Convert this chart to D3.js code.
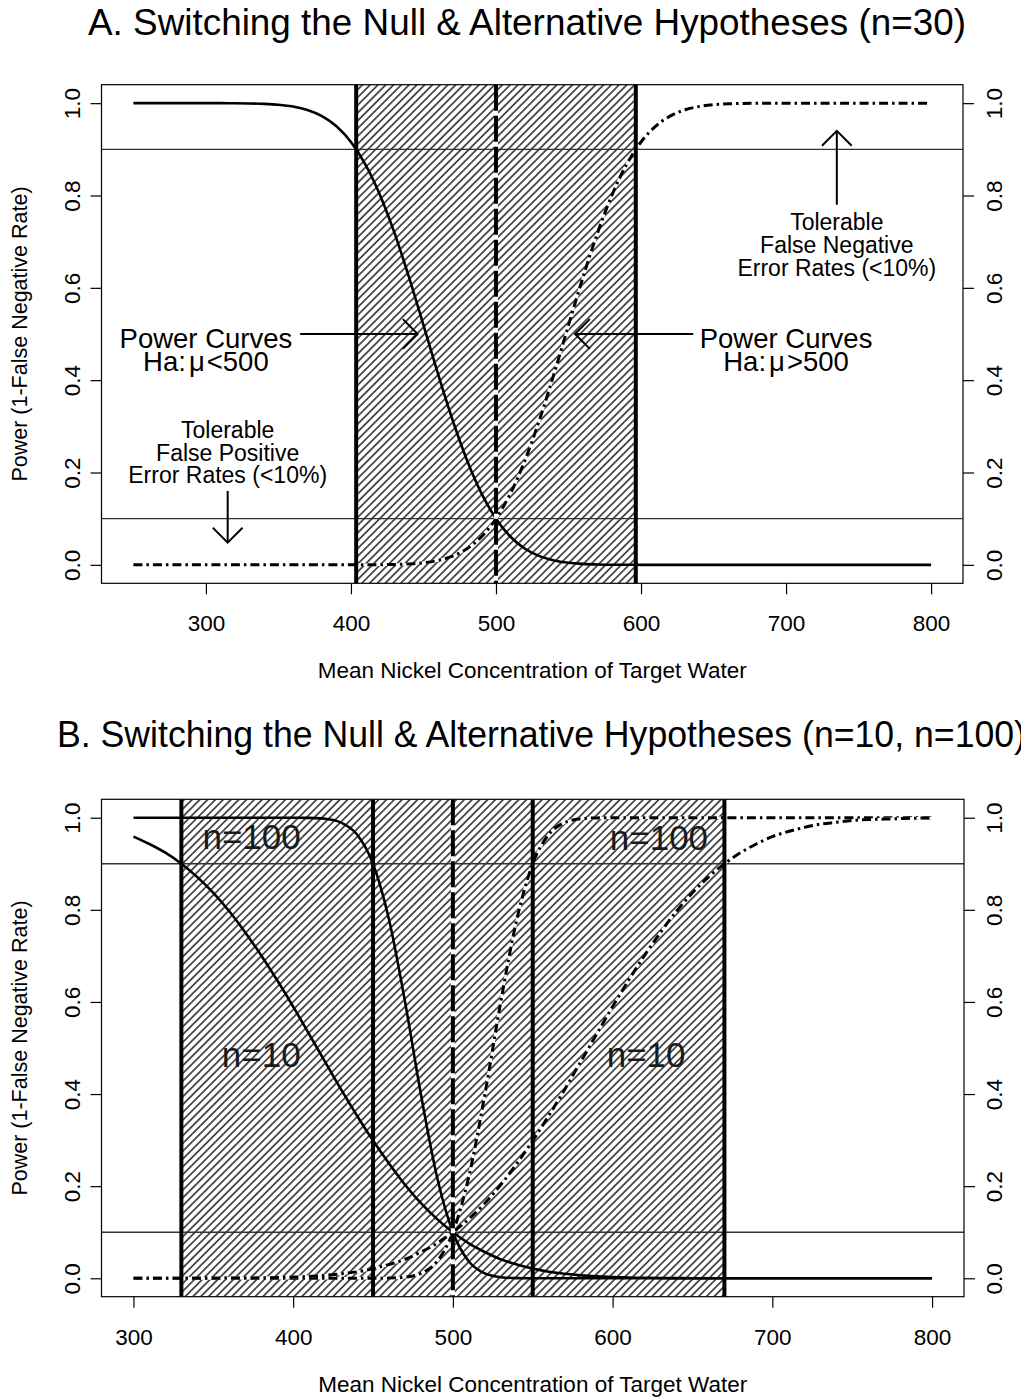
<!DOCTYPE html>
<html>
<head>
<meta charset="utf-8">
<script src="https://cdn.jsdelivr.net/npm/d3@7"></script>
<style>
  body { margin: 0; background: #fff; }
  svg text { font-family: "Liberation Sans", Arial, Helvetica, sans-serif; fill: #000; }
</style>
</head>
<body>
<svg id="fig" width="1021" height="1397"></svg>
<script>
// ---------- values ----------
// Panel A: n = 30, true mean grid and power of the two one-sided tests
const muA = [250,260,270,280,290,300,310,320,330,340,350,360,370,380,390,400,410,420,430,440,
             450,460,470,480,490,500,510,520,530,540,550,560,570,580,590,600,610,620,630,640,
             650,660,670,680,690,700,710,720,730,740,750,760,770,780,790,800];
const powerLowerA = [1,1,1,1,1,1,1,0.9998,0.9994,0.9985,0.9966,0.9927,0.9852,0.9719,0.9499,0.9159,
             0.8670,0.8012,0.7190,0.6232,0.5191,0.4137,0.3142,0.2266,0.1548,0.0999,0.0608,0.0348,
             0.0188,0.0095,0.0045,0.0020,0.0008,0.0003,0.0001,
             0,0,0,0,0,0,0,0,0,0,0,0,0,0,0,0,0,0,0,0,0];
const powerUpperA = [0,0,0,0,0,0,0,0,0,0,0,0,0,0,0,0,
             0.0001,0.0003,0.0008,0.0020,0.0045,0.0095,0.0188,0.0348,0.0608,0.0999,0.1548,0.2266,
             0.3142,0.4137,0.5191,0.6232,0.7190,0.8012,0.8670,0.9159,0.9499,0.9719,0.9852,0.9927,
             0.9966,0.9985,0.9994,0.9998,
             1,1,1,1,1,1,1,1,1,1,1,1];
const criticalA = [403.6, 596.4];

// Panel B: n = 10 and n = 100
const muB = [300,310,320,330,340,350,360,370,380,390,400,410,420,430,440,450,460,470,480,490,
             500,510,520,530,540,550,560,570,580,590,600,610,620,630,640,650,660,670,680,690,
             700,710,720,730,740,750,760,770,780,790,800];
const powerLower100 = [1,1,1,1,1,1,1,1,1,1,1,
             0.9996,0.9976,0.9895,0.9637,0.9000,0.7790,0.6010,0.3990,0.2210,0.1000,0.0363,0.0105,
             0.0024,0.0004,
             0,0,0,0,0,0,0,0,0,0,0,0,0,0,0,0,0,0,0,0,0,0,0,0,0,0];
const powerUpper100 = [0,0,0,0,0,0,0,0,0,0,0,0,0,0,0,0,
             0.0004,0.0024,0.0105,0.0363,0.1000,0.2210,0.3990,0.6010,0.7790,0.9000,0.9637,0.9895,
             0.9976,0.9996,
             1,1,1,1,1,1,1,1,1,1,1,1,1,1,1,1,1,1,1,1,1];
const powerLower10 = [0.959,0.943,0.924,0.900,0.871,0.837,0.797,0.751,0.701,0.647,0.590,0.530,
             0.470,0.410,0.353,0.299,0.249,0.203,0.163,0.129,0.100,0.076,0.057,0.041,0.030,0.021,
             0.014,0.0097,0.0064,0.0041,0.0026,0.0016,0.0010,0.0006,0.0004,0.0002,0.0001,
             0,0,0,0,0,0,0,0,0,0,0,0,0,0];
const powerUpper10 = [0,0,0,0,
             0.0001,0.0002,0.0004,0.0006,0.0010,0.0016,0.0026,0.0041,0.0064,0.0097,0.014,0.021,
             0.030,0.041,0.057,0.076,0.100,0.129,0.163,0.203,0.249,0.299,0.353,0.410,0.470,0.530,
             0.590,0.647,0.701,0.751,0.797,0.837,0.871,0.900,0.924,0.943,0.959,0.970,0.979,0.986,
             0.990,0.994,0.996,0.997,0.998,0.999,0.9994];
const criticalB = [330, 450, 550, 670];

const nullMean = 500;
const errorLevels = [0.1, 0.9];
const xTicksA = [300, 400, 500, 600, 700, 800];
const xTicksB = [300, 400, 500, 600, 700, 800];
const yTicks = [0, 0.2, 0.4, 0.6, 0.8, 1.0];

const titleA = "A. Switching the Null & Alternative Hypotheses (n=30)";
const titleB = "B. Switching the Null & Alternative Hypotheses (n=10, n=100)";
const xTitle = "Mean Nickel Concentration of Target Water";
const yTitle = "Power (1-False Negative Rate)";

// ---------- drawing ----------
const svg = d3.select("#fig");
const defs = svg.append("defs");

// diagonal "/" hatching
const pat = defs.append("pattern")
  .attr("id", "hatch")
  .attr("patternUnits", "userSpaceOnUse")
  .attr("width", 5.5).attr("height", 12)
  .attr("patternTransform", "rotate(45)");
pat.append("line")
  .attr("x1", 2.75).attr("x2", 2.75).attr("y1", -2).attr("y2", 14)
  .attr("stroke", "#000").attr("stroke-width", 1.3);

function padded(ext, f) {
  const p = (ext[1] - ext[0]) * f;
  return [ext[0] - p, ext[1] + p];
}

function arrow(g, x1, y1, x2, y2) {
  const len = 21, ang = Math.PI / 4;
  const a = Math.atan2(y2 - y1, x2 - x1);
  g.append("line").attr("x1", x1).attr("y1", y1).attr("x2", x2).attr("y2", y2)
    .attr("stroke", "#000").attr("stroke-width", 2);
  g.append("path")
    .attr("d", `M${x2 - len * Math.cos(a - ang)},${y2 - len * Math.sin(a - ang)}` +
               `L${x2},${y2}` +
               `L${x2 - len * Math.cos(a + ang)},${y2 - len * Math.sin(a + ang)}`)
    .attr("fill", "none").attr("stroke", "#000").attr("stroke-width", 2);
}

function multiline(g, lines, cx, y0, step, size) {
  lines.forEach((t, i) => {
    g.append("text").attr("x", cx).attr("y", y0 + i * step)
      .attr("text-anchor", "middle").attr("font-size", size).text(t);
  });
}

function hypoText(g, cx, y, sign, size) {
  const t = g.append("text").attr("x", cx).attr("y", y)
    .attr("text-anchor", "middle").attr("font-size", size);
  t.append("tspan").text("Ha:");
  t.append("tspan").attr("dx", 3).text("\u03BC");
  t.append("tspan").attr("dx", 2).text(sign + "500");
}

function panel(cfg) {
  const g = svg.append("g");
  const x = d3.scaleLinear().domain(padded(d3.extent(cfg.mu), 0.04)).range([cfg.left, cfg.right]);
  const y = d3.scaleLinear().domain(padded([0, 1], 0.04)).range([cfg.bottom, cfg.top]);

  const clipId = "clip" + cfg.id;
  defs.append("clipPath").attr("id", clipId).append("rect")
    .attr("x", cfg.left).attr("y", cfg.top)
    .attr("width", cfg.right - cfg.left).attr("height", cfg.bottom - cfg.top);
  const plot = g.append("g").attr("clip-path", `url(#${clipId})`);

  // hatched band between the outermost critical means
  const lo = d3.min(cfg.crit), hi = d3.max(cfg.crit);
  plot.append("rect")
    .attr("x", x(lo)).attr("width", x(hi) - x(lo))
    .attr("y", cfg.top).attr("height", cfg.bottom - cfg.top)
    .attr("fill", "url(#hatch)");

  // tolerable error-rate boundaries
  errorLevels.forEach(v => {
    plot.append("line")
      .attr("x1", cfg.left).attr("x2", cfg.right)
      .attr("y1", y(v)).attr("y2", y(v))
      .attr("stroke", "#333").attr("stroke-width", 1.4);
  });

  // power curves
  const line = d3.line().x((d, i) => x(cfg.mu[i])).y(d => y(d)).curve(d3.curveMonotoneX);
  cfg.series.forEach(s => {
    if (s.style === "dotdash") {
      plot.append("path").attr("d", line(s.values))
        .attr("fill", "none").attr("stroke", "#fff").attr("stroke-width", 2.5);
      plot.append("path").attr("d", line(s.values))
        .attr("fill", "none").attr("stroke", "#000").attr("stroke-width", 3)
        .attr("stroke-dasharray", "9,4,2.5,4");
    } else {
      plot.append("path").attr("d", line(s.values))
        .attr("fill", "none").attr("stroke", "#000").attr("stroke-width", 2.6);
    }
  });

  // critical means
  cfg.crit.forEach(c => {
    plot.append("line").attr("x1", x(c)).attr("x2", x(c))
      .attr("y1", cfg.top).attr("y2", cfg.bottom)
      .attr("stroke", "#000").attr("stroke-width", 4);
  });
  // hypothesised mean
  plot.append("line").attr("x1", x(nullMean)).attr("x2", x(nullMean))
    .attr("y1", cfg.top).attr("y2", cfg.bottom)
    .attr("stroke", "#fff").attr("stroke-width", 4);
  plot.append("line").attr("x1", x(nullMean)).attr("x2", x(nullMean))
    .attr("y1", cfg.top).attr("y2", cfg.bottom)
    .attr("stroke", "#000").attr("stroke-width", 4)
    .attr("stroke-dasharray", "26,5");

  // frame
  g.append("rect").attr("x", cfg.left).attr("y", cfg.top)
    .attr("width", cfg.right - cfg.left).attr("height", cfg.bottom - cfg.top)
    .attr("fill", "none").attr("stroke", "#000").attr("stroke-width", 1.2);

  // axes
  const tickFont = 22.5;
  const xa = g.append("g").attr("transform", `translate(0,${cfg.bottom})`)
    .call(d3.axisBottom(x).tickValues(cfg.xTicks).tickSize(11).tickSizeOuter(0));
  xa.select(".domain").remove();
  xa.selectAll(".tick line").attr("stroke", "#000").attr("stroke-width", 1.2);
  xa.selectAll(".tick text").attr("y", 48).attr("dy", 0)
    .attr("font-size", tickFont).attr("font-family", null).attr("fill", "#000");

  const fmt = d3.format(".1f");
  const ya = g.append("g").attr("transform", `translate(${cfg.left},0)`)
    .call(d3.axisLeft(y).tickValues(yTicks).tickSize(11).tickSizeOuter(0).tickFormat(fmt));
  ya.select(".domain").remove();
  ya.selectAll(".tick line").attr("stroke", "#000").attr("stroke-width", 1.2);
  ya.selectAll(".tick text").attr("x", 0).attr("y", 0).attr("dy", 0)
    .attr("text-anchor", "middle").attr("font-size", tickFont).attr("font-family", null)
    .attr("fill", "#000")
    .attr("transform", `translate(${80 - cfg.left},0) rotate(-90)`);

  const ra = g.append("g").attr("transform", `translate(${cfg.right},0)`)
    .call(d3.axisRight(y).tickValues(yTicks).tickSize(11).tickSizeOuter(0).tickFormat(fmt));
  ra.select(".domain").remove();
  ra.selectAll(".tick line").attr("stroke", "#000").attr("stroke-width", 1.2);
  ra.selectAll(".tick text").attr("x", 0).attr("y", 0).attr("dy", 0)
    .attr("text-anchor", "middle").attr("font-size", tickFont).attr("font-family", null)
    .attr("fill", "#000")
    .attr("transform", `translate(${1002 - cfg.right},0) rotate(-90)`);

  // titles
  g.append("text").attr("x", cfg.titleX).attr("y", cfg.titleY)
    .attr("font-size", 36.5)
    .attr("textLength", cfg.titleLength).attr("lengthAdjust", "spacingAndGlyphs")
    .text(cfg.title);
  g.append("text").attr("x", (cfg.left + cfg.right) / 2).attr("y", cfg.bottom + 95)
    .attr("text-anchor", "middle").attr("font-size", 22.5).text(xTitle);
  const ym = (cfg.top + cfg.bottom) / 2;
  g.append("text").attr("x", 0).attr("y", 0)
    .attr("transform", `translate(27,${ym}) rotate(-90)`)
    .attr("text-anchor", "middle").attr("font-size", 21.5).text(yTitle);

  return { g, x, y };
}

// ---- Panel A ----
const A = panel({
  id: "A", mu: muA, left: 101.5, right: 963, top: 84.7, bottom: 583.3,
  xTicks: xTicksA, crit: criticalA,
  title: titleA, titleX: 88, titleY: 35, titleLength: 878,
  series: [
    { values: powerLowerA, style: "solid" },
    { values: powerUpperA, style: "dotdash" }
  ]
});
{
  const { g, x, y } = A;
  const big = 27.5, small = 23;
  // Ha: mu < 500
  g.append("text").attr("x", x(300)).attr("y", y(0.5) + 14)
    .attr("text-anchor", "middle").attr("font-size", big).text("Power Curves");
  hypoText(g, x(300), y(0.5) + 37, "<", big);
  arrow(g, x(365), y(0.5), x(446), y(0.5));
  // Ha: mu > 500
  g.append("text").attr("x", x(700)).attr("y", y(0.5) + 14)
    .attr("text-anchor", "middle").attr("font-size", big).text("Power Curves");
  hypoText(g, x(700), y(0.5) + 37, ">", big);
  arrow(g, x(636), y(0.5), x(554.5), y(0.5));
  // false positive zone
  multiline(g, ["Tolerable", "False Positive", "Error Rates (<10%)"], x(315), y(0.275), 22.7, small);
  arrow(g, x(315), y(0.16), x(315), y(0.048));
  // false negative zone
  multiline(g, ["Tolerable", "False Negative", "Error Rates (<10%)"], x(735), y(0.725), 22.7, small);
  arrow(g, x(735), y(0.78), x(735), y(0.94));
}

// ---- Panel B ----
const B = panel({
  id: "B", mu: muB, left: 101.5, right: 964, top: 799.3, bottom: 1296.7,
  xTicks: xTicksB, crit: criticalB,
  title: titleB, titleX: 57, titleY: 746.7, titleLength: 969,
  series: [
    { values: powerLower100, style: "solid" },
    { values: powerLower10, style: "solid" },
    { values: powerUpper100, style: "dotdash" },
    { values: powerUpper10, style: "dotdash" }
  ]
});
{
  const { g, x, y } = B;
  const sz = 35;
  [["n=100", 374, 0.932], ["n=100", 629, 0.930], ["n=10", 380, 0.458], ["n=10", 621, 0.458]]
    .forEach(([t, mx, p]) => {
      g.append("text").attr("x", x(mx)).attr("y", y(p))
        .attr("text-anchor", "middle").attr("font-size", sz)
        .style("fill", "#1a1a1a").text(t);
    });
}
</script>
</body>
</html>
